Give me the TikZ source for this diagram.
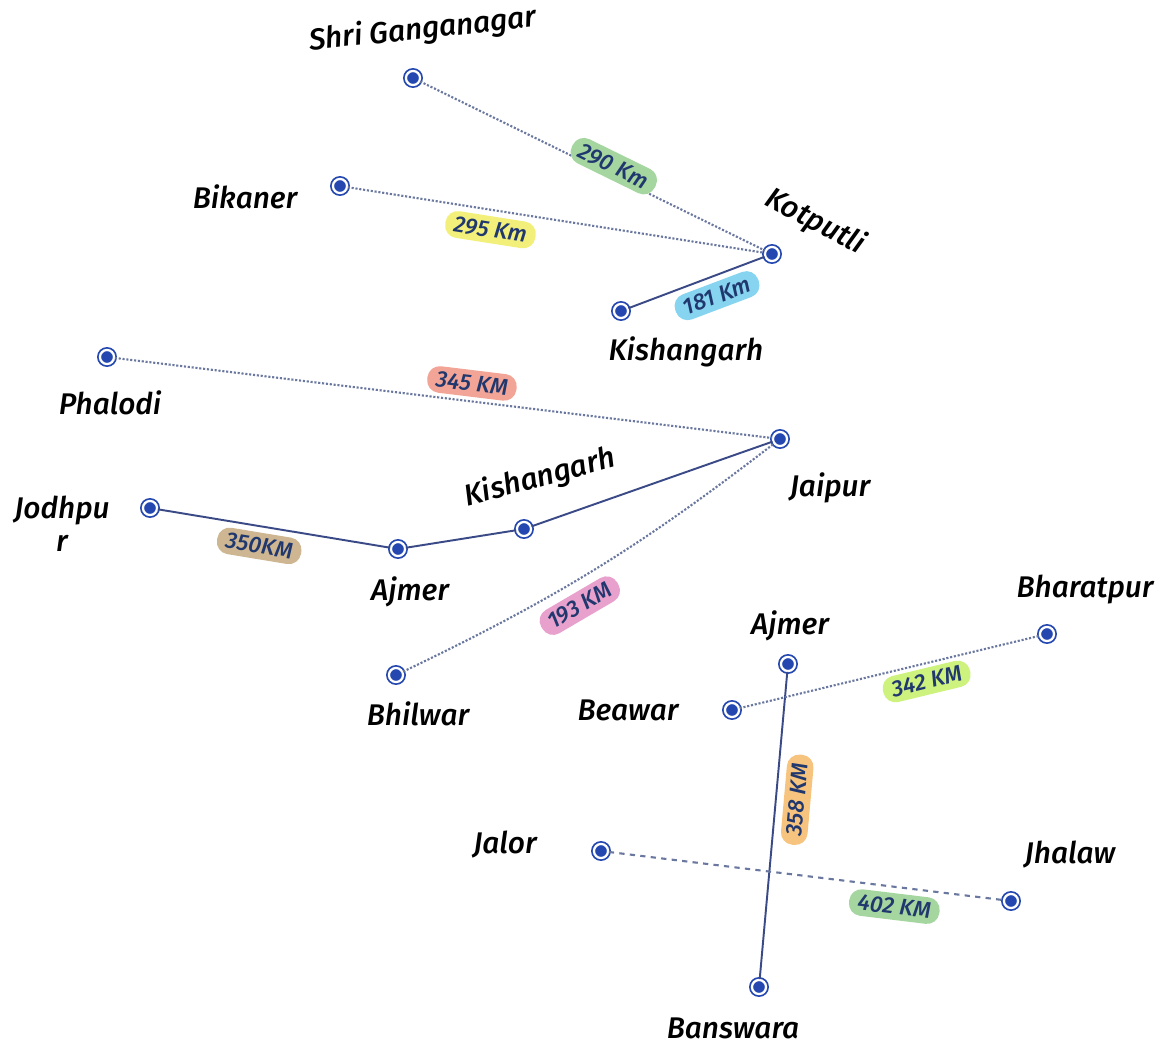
\documentclass[tikz,border=0pt]{standalone}
\usepackage{fontspec}
\setmainfont{Fira Sans Medium}[ItalicFont={Fira Sans Medium Italic}]
\usepackage{xcolor}
\usetikzlibrary{positioning}
\definecolor{cityblue}{HTML}{2448B0}
\definecolor{roadblue}{HTML}{3A4A86}
\definecolor{trailgrey}{HTML}{6A78A0}
\definecolor{inkblue}{HTML}{20386E}
\definecolor{mossgreen}{HTML}{A6D6A0}
\definecolor{lemon}{HTML}{F2F07A}
\definecolor{skyblue}{HTML}{86D4F0}
\definecolor{salmon}{HTML}{F2A496}
\definecolor{tan}{HTML}{CDB691}
\definecolor{rosepink}{HTML}{E8A0CC}
\definecolor{apricot}{HTML}{F6C47E}
\definecolor{lime}{HTML}{CDF27E}

\begin{document}
\begin{tikzpicture}[
  x=0.02cm, y=-0.02cm,
  city/.style={circle, inner sep=0pt, minimum size=8pt, fill=cityblue,
               draw=cityblue, line width=1pt, double=white,
               double distance=1.3pt},
  place/.style={font=\fontsize{17}{19}\selectfont\itshape, inner sep=1pt,
                align=center},
  road/.style={draw=roadblue, line width=1.1pt},
  trail/.style={draw=trailgrey, densely dotted, line width=1.2pt},
  dist/.style={sloped, rounded corners=7pt, inner xsep=5pt, inner ysep=3pt,
               font=\fontsize{13}{14}\selectfont\itshape, text=inkblue}
]
  \path[use as bounding box] (0,0) rectangle (1164,1045);

  % cities
  \node[city] (SG) at (413,78) {};
  \node[city] (BK) at (340,186) {};
  \node[city] (KT) at (772,254) {};
  \node[city] (KGa) at (621,311) {};
  \node[city] (PH) at (107,357) {};
  \node[city] (JP) at (780,439) {};
  \node[city] (JD) at (150,508) {};
  \node[city] (AJa) at (398,549) {};
  \node[city] (KGb) at (524,529) {};
  \node[city] (BH) at (396,675) {};
  \node[city] (AJb) at (788,664) {};
  \node[city] (BP) at (1047,634) {};
  \node[city] (BE) at (732,710) {};
  \node[city] (JL) at (601,851) {};
  \node[city] (JH) at (1011,901) {};
  \node[city] (BS) at (759,987) {};

  % city names
  \node[place, rotate=6] (SGname) at (423,30) {Shri Ganganagar};
  \node[place] (BKname) at (245,197) {Bikaner};
  \node[place, rotate=-28] (KTname) at (815,222) {Kotputli};
  \node[place] (KGaname) at (686,352) {Kishangarh};
  \node[place] (PHname) at (110,403) {Phalodi};
  \node[place] (JPname) at (830,488) {Jaipur};
  \node[place] (JDname) at (62,524) {Jodhpu\\r};
  \node[place] (AJaname) at (410,592) {Ajmer};
  \node[place, rotate=15] (KGbname) at (540,478) {Kishangarh};
  \node[place] (BHname) at (418,714) {Bhilwar};
  \node[place] (AJbname) at (790,626) {Ajmer};
  \node[place] (BPname) at (1085,590) {Bharatpur};
  \node[place] (BEname) at (628,710) {Beawar};
  \node[place] (JLname) at (505,845) {Jalor};
  \node[place] (JHname) at (1070,855) {Jhalaw};
  \node[place] (BSname) at (733,1028) {Banswara};

  % roads
  \draw[trail] (SG) -- node[dist, fill=mossgreen, pos=0.55, above=-3pt] {290 Km} (KT);
  \draw[trail] (BK) -- node[dist, fill=lemon, pos=0.35, below=3pt] {295 Km} (KT);
  \draw[road] (KGa) -- node[dist, fill=skyblue, pos=0.6, below=3pt] {181 Km} (KT);
  \draw[trail] (PH) -- node[dist, fill=salmon, pos=0.54, above=2pt] {345 KM} (JP);
  \draw[road] (JD) -- node[dist, fill=tan, pos=0.45, below=3pt] {350KM} (AJa);
  \draw[road] (AJa) -- (KGb);
  \draw[road] (KGb) -- (JP);
  \draw[trail] (BH) to[bend right=6]
    node[dist, fill=rosepink, pos=0.42, below=5pt] {193 KM} (JP);
  \draw[road] (BS) -- node[dist, fill=apricot, pos=0.59, below=4pt] {358 KM} (AJb);
  \draw[trail] (BE) -- node[dist, fill=lime, pos=0.61, below=2pt] {342 KM} (BP);
  \draw[trail, dashed] (JL) -- node[dist, fill=mossgreen, pos=0.73, below=3pt] {402 KM} (JH);
\end{tikzpicture}
\end{document}
